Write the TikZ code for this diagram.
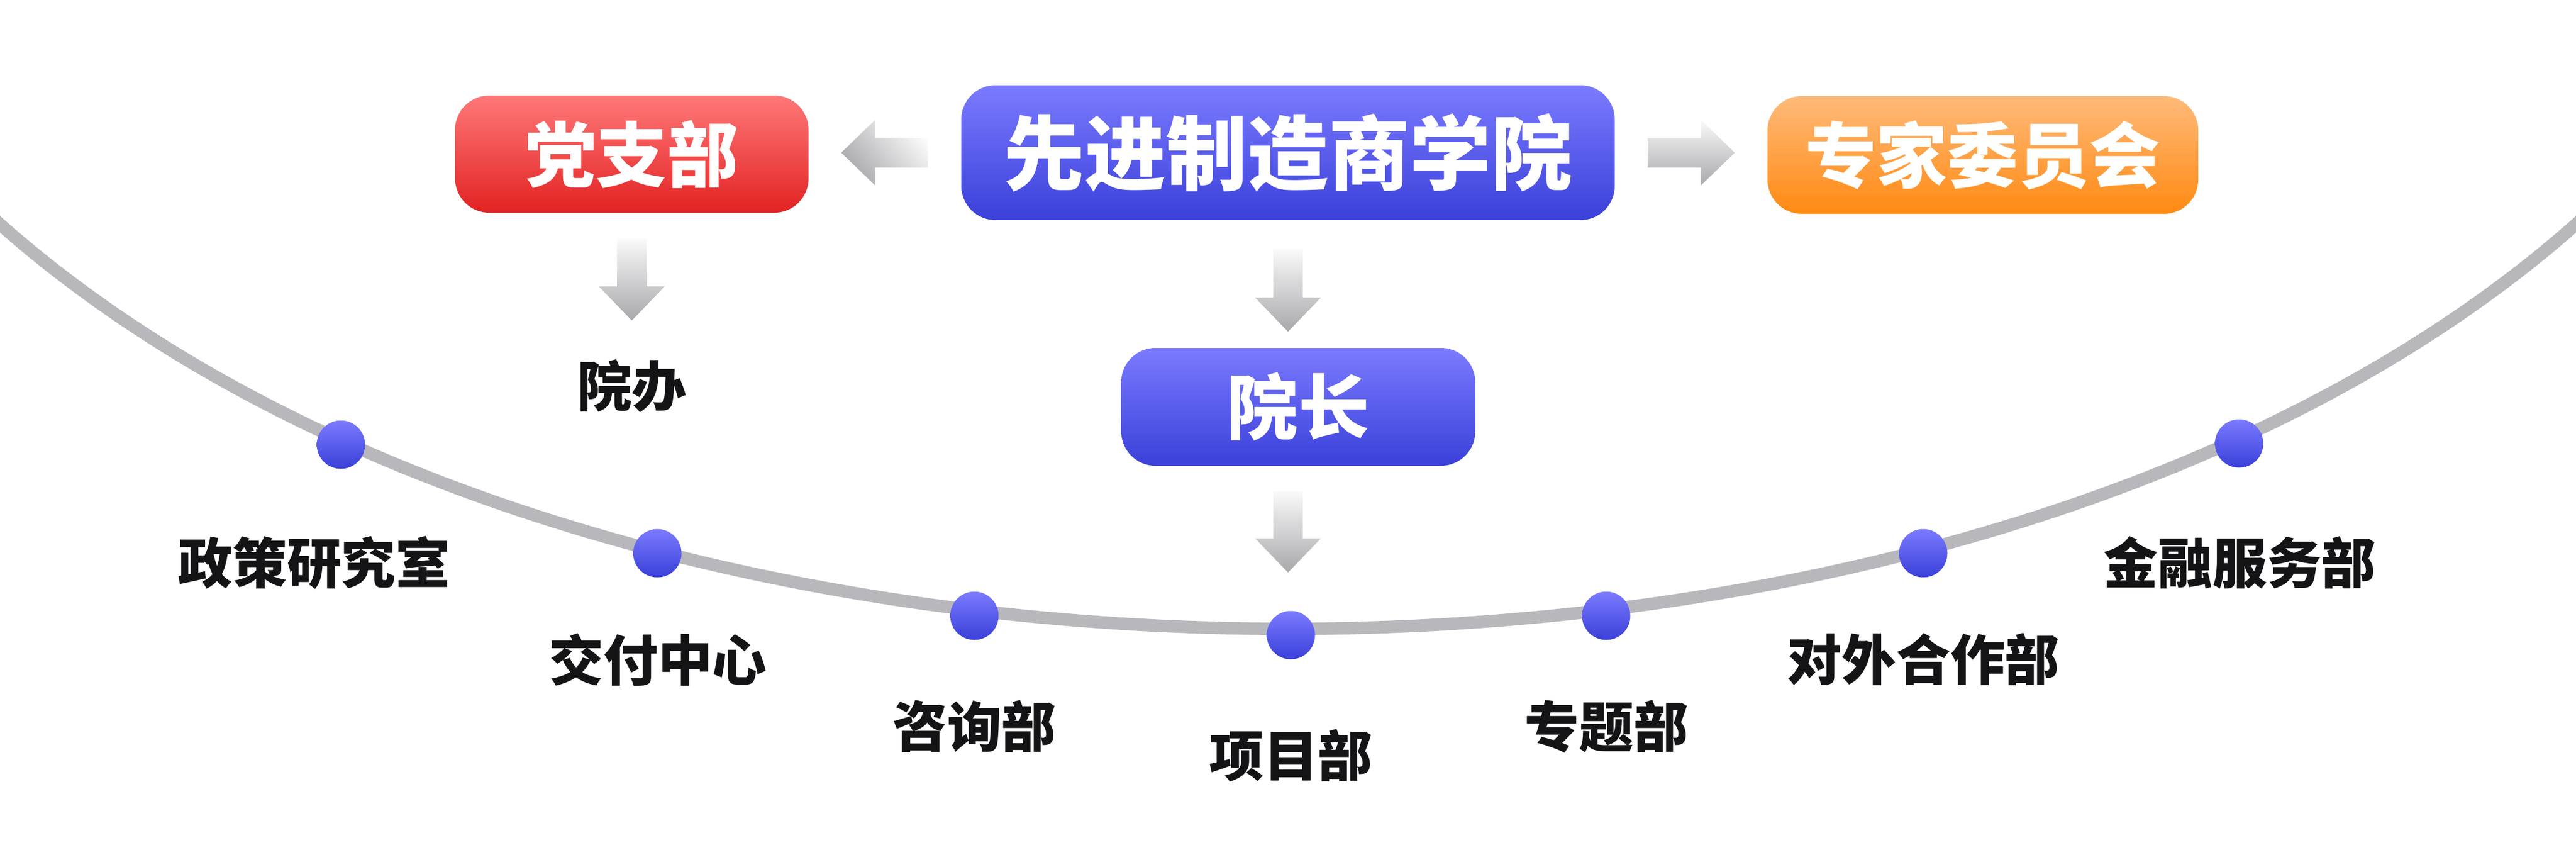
\documentclass[tikz,border=0pt]{standalone}
\usepackage{fontspec}
\usepackage{xcolor}
\usepackage{tikz}
\usetikzlibrary{calc,positioning,shapes}
\newfontfamily\cjk{Noto Sans CJK SC}
\definecolor{redtop}{HTML}{FF7878}
\definecolor{redbot}{HTML}{E22222}
\definecolor{bluetop}{HTML}{7B7BFF}
\definecolor{bluebot}{HTML}{3A40D9}
\definecolor{orangetop}{HTML}{FFBA7A}
\definecolor{orangebot}{HTML}{FF8A12}
\definecolor{arrowlight}{HTML}{FAFAFA}
\definecolor{arrowdark}{HTML}{A8A8AC}
\definecolor{curvegray}{HTML}{B8B8BC}
\definecolor{labelblack}{HTML}{141416}
\tikzset{>=latex}
\tikzset{
  box/.style={rounded corners=0.6cm, inner sep=0pt, text=white,
    font=\cjk\bfseries\fontsize{35.6pt}{40pt}\selectfont},
  redbox/.style={box, top color=redtop, bottom color=redbot,
    minimum width=6.22cm, minimum height=2.06cm},
  bluebox/.style={box, top color=bluetop, bottom color=bluebot,
    minimum width=6.23cm, minimum height=2.07cm},
  orangebox/.style={box, top color=orangetop, bottom color=orangebot,
    minimum width=7.58cm, minimum height=2.07cm},
  dept/.style={inner sep=0pt, text=labelblack,
    font=\cjk\bfseries\fontsize{27.3pt}{30pt}\selectfont},
  dot/.style={circle, inner sep=0pt, minimum size=0.85cm,
    top color=bluetop, bottom color=bluebot},
  curveline/.style={draw=curvegray, line width=0.22cm,
    shorten <=-4mm, shorten >=-4mm},
  blockshade/.style={top color=arrowlight, bottom color=arrowdark},
}
\newcommand{\blockarrow}[3][]{%
  \coordinate (ba-h) at ($(#3)!6mm!(#2)$);
  \shade[blockshade,#1] ($(#2)!2.6mm!90:(#3)$) -- ($(ba-h)!2.6mm!-90:(#2)$)
    -- ($(ba-h)!5.8mm!-90:(#2)$) -- (#3) -- ($(ba-h)!5.8mm!90:(#2)$)
    -- ($(ba-h)!2.6mm!90:(#2)$) -- ($(#2)!2.6mm!-90:(#3)$) -- cycle;
}

\begin{document}
\begin{tikzpicture}
      \useasboundingbox (0,0) rectangle (45.34,-14.94);
        % the arc of departments
        \draw[curveline] (0,-3.95) .. controls (10.39,-13.52) and (34.95,-13.52) .. (45.34,-3.95);

        \node[bluebox, minimum width=11.5cm, minimum height=2.37cm,
          font=\cjk\bfseries\fontsize{40.7pt}{44pt}\selectfont]
          at (22.67,-2.685) (main) {先进制造商学院};
        \node[redbox] at (11.12,-2.71) (party) {党支部};
        \node[orangebox] at (34.90,-2.725) (expert) {专家委员会};
        \node[bluebox] at (22.85,-7.155) (dean) {院长};
        \node[dept] at (11.12,-6.79) (office) {院办};

        \node[dot] at (6.00,-7.82) (d1) {};
        \node[dot] at (11.57,-9.73) (d2) {};
        \node[dot] at (17.15,-10.83) (d3) {};
        \node[dot] at (22.72,-11.17) (d4) {};
        \node[dot] at (28.27,-10.83) (d5) {};
        \node[dot] at (33.85,-9.73) (d6) {};
        \node[dot] at (39.41,-7.80) (d7) {};

        \node[dept] at (5.53,-9.90) (l1) {政策研究室};
        \node[dept] at (11.58,-11.60) (l2) {交付中心};
        \node[dept] at (17.15,-12.78) (l3) {咨询部};
        \node[dept] at (22.72,-13.29) (l4) {项目部};
        \node[dept] at (28.27,-12.78) (l5) {专题部};
        \node[dept] at (33.85,-11.60) (l6) {对外合作部};
        \node[dept] at (39.42,-9.90) (l7) {金融服务部};

        \coordinate (a1s) at ($(main.west)+(-0.58,0)$);
        \coordinate (a1e) at ($(party.east |- a1s)+(0.57,0)$);
        \coordinate (a2s) at ($(main.east)+(0.58,0)$);
        \coordinate (a2e) at ($(expert.west |- a2s)+(-0.57,0)$);
        \coordinate (a3s) at ($(party.south)+(0,-0.45)$);
        \coordinate (a3e) at ($(party.south |- office.north)+(0,0.68)$);
        \coordinate (a4s) at ($(main.south)+(0,-0.50)$);
        \coordinate (a4e) at ($(main.south |- dean.north)+(0,0.28)$);
        \coordinate (a5s) at ($(main.south |- dean.south)+(0,-0.44)$);
        \coordinate (a5e) at ($(main.south |- d4.north)+(0,0.67)$);

        \blockarrow[shading angle=-50]{a1s}{a1e}
        \blockarrow{a2s}{a2e}
        \blockarrow{a3s}{a3e}
        \blockarrow{a4s}{a4e}
        \blockarrow{a5s}{a5e}
      \end{tikzpicture}
\end{document}
